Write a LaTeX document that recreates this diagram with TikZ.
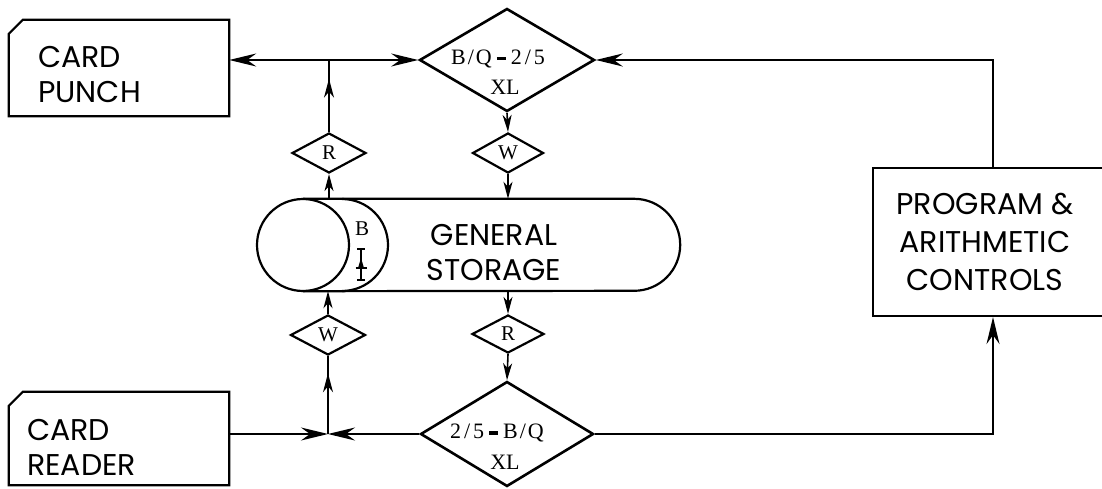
\documentclass[tikz,border=0pt]{standalone}
\usepackage{fontspec}
\setmainfont{Liberation Serif}
\newfontfamily\gothic{Poppins}
\usetikzlibrary{shapes.geometric,arrows.meta,decorations.markings}
\newcommand{\bdash}{\hspace{5pt}\rule[4pt]{9pt}{3.5pt}\hspace{5pt}}
\newcommand{\bq}{B\kern2pt/\kern2ptQ}
\newcommand{\twofive}{2\kern3pt/\kern3pt5}
\begin{document}
\begin{tikzpicture}[x=1pt,y=-1pt,
  conn/.style={line width=1.6pt},
  shp/.style={line width=2.2pt},
  big/.style={-{Stealth[length=27pt,width=13pt,inset=9pt]}},
  sm/.style={-{Stealth[length=17pt,width=9pt,inset=5pt]}},
  dia/.style={diamond, draw, line width=2.6pt, inner sep=0pt},
  lbl/.style={font=\fontsize{21}{26}\selectfont},
  blbl/.style={font=\fontsize{22}{26}\selectfont},
  gt/.style={font=\gothic\fontsize{30}{35}\selectfont, inner sep=0pt},
  midarr/.style={postaction={decorate}, decoration={markings, mark=at position #1 with {\arrow{Stealth[length=19pt,width=10pt,inset=6pt]}}}},
]
\useasboundingbox (0,0) rectangle (1102,489);
\clip (0,0) rectangle (1102,489);

% card punch
\node[minimum width=220, minimum height=96, inner sep=0pt] (punch) at (119,68) {};
\draw[shp] ([yshift=-14pt]punch.north west) -- ([xshift=14pt]punch.north west) -- (punch.north east) -- (punch.south east) -- (punch.south west) -- cycle;
\node[gt, align=left, anchor=west] (punchtxt) at (38,75) {CARD\\PUNCH};

% card reader
\node[minimum width=220, minimum height=93, inner sep=0pt] (reader) at (119,438.5) {};
\draw[shp] ([yshift=-14pt]reader.north west) -- ([xshift=14pt]reader.north west) -- (reader.north east) -- (reader.south east) -- (reader.south west) -- cycle;
\node[gt, align=left, anchor=west] (readertxt) at (27,447) {CARD\\READER};

% general storage
\node[minimum width=331, minimum height=92, inner sep=0pt] (stor) at (468.5,245) {};
\draw[shp] (stor.north west) -- (stor.north east) arc[start angle=90, end angle=-90, radius=46pt] -- (stor.south west);
\draw[shp] (303,245) circle[radius=46pt];
\draw[shp] (342,199) arc[start angle=90, end angle=-90, radius=46pt];
\node[lbl] (bsym) at (362,229) {B};
\draw[line width=1.5pt] (361,249) -- (361,280) (357,249) -- (365,249) (357,280) -- (365,280) (355.5,268) -- (366.5,268);
\fill (361,258) -- (358,268) -- (364,268) -- cycle;
\node[gt, align=center] (stortxt) at (494,253) {GENERAL\\STORAGE};

% program box
\node[draw, shp, minimum width=240, minimum height=148, inner sep=0pt] (prog) at (993,242) {};
\node[gt, align=center, font=\gothic\fontsize{30}{38}\selectfont] (progtxt) at (985,242) {PROGRAM \&\\ARITHMETIC\\CONTROLS};

% big diamonds
\node[dia, minimum width=175, minimum height=103] (tq) at (507,60) {};
\node[blbl] (tqa) at (498,59) {\bq\bdash\twofive};
\node[blbl] (tqb) at (505,87) {XL};
\node[dia, minimum width=173, minimum height=105] (bq) at (507,434) {};
\node[blbl] (bqa) at (497,433) {\twofive\bdash\bq};
\node[blbl] (bqb) at (505,462) {XL};

% small diamonds
\node[dia, line width=2.2pt, minimum width=74, minimum height=40, lbl] (rtop) at (329,153) {R};
\node[dia, line width=2.2pt, minimum width=71, minimum height=40, lbl] (wtop) at (508,153) {W};
\node[dia, line width=2.2pt, minimum width=75, minimum height=40, lbl] (wbot) at (328,335) {W};
\node[dia, line width=2.2pt, minimum width=72, minimum height=38, lbl] (rbot) at (508,334) {R};

% connectors
\coordinate (j1) at (rtop.north |- tq.west);
\draw[conn, big] (j1) -- (tq.west);
\draw[conn, big] (j1) -- (tq.west -| punch.east);
\draw[conn, midarr=0.74] (rtop.north) -- (j1);
\draw[conn, sm] (rtop.south |- stor.north) -- (rtop.south);
\draw[conn, sm] (tq.south) -- (wtop.north);
\draw[conn, sm] (wtop.south) -- (wtop.south |- stor.north);
\draw[conn, sm] (wbot.north) -- (wbot.north |- stor.south);
\draw[conn, sm] (rbot.north |- stor.south) -- (rbot.north);
\draw[conn, sm] (rbot.south) -- (bq.north);
\coordinate (j2) at (wbot.south |- bq.west);
\draw[conn, big] (bq.west -| reader.east) -- (j2);
\draw[conn, big] (bq.west) -- (j2);
\draw[conn, midarr=0.78] (j2) -- (wbot.south);
\draw[conn, big] (prog.north) |- (tq.east);
\draw[conn, big] (bq.east) -| (prog.south);
\end{tikzpicture}
\end{document}
